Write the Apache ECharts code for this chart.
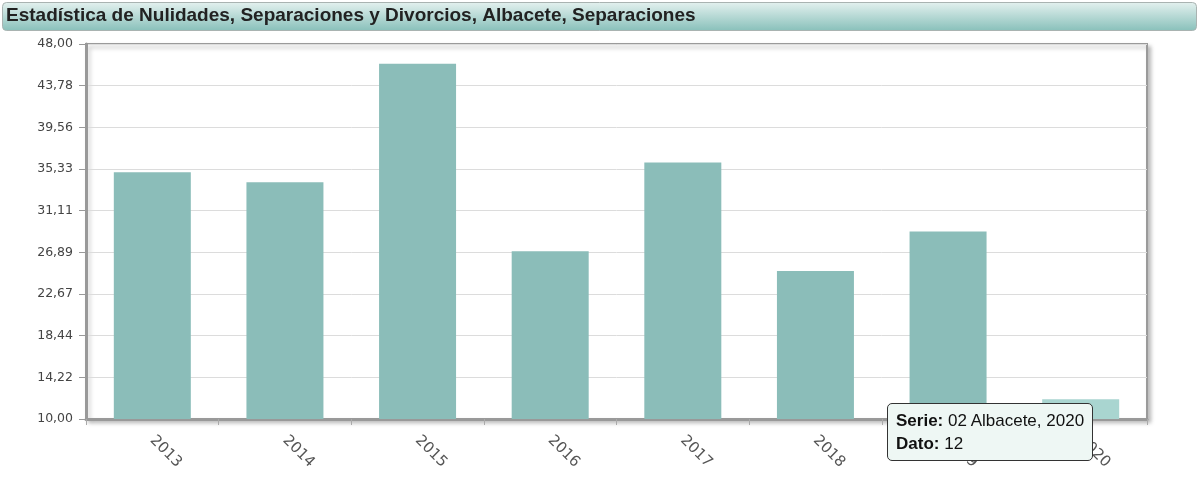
<!DOCTYPE html>
<html>
<head>
<meta charset="utf-8">
<script src="https://cdn.jsdelivr.net/npm/echarts@6/dist/echarts.min.js"></script>
<style>
html,body{margin:0;padding:0;background:#fff;}
#c{width:1200px;height:478px;}
</style>
</head>
<body>
<div id="c"></div>
<script>
const titleText = 'Estadística de Nulidades, Separaciones y Divorcios, Albacete, Separaciones';
const categories = ['2013','2014','2015','2016','2017','2018','2019','2020'];
const values = [35, 34, 46, 27, 36, 25, 29, 12];
const seriesName = '02 Albacete';
const yMin = 10, yMax = 48;

const chart = echarts.init(document.getElementById('c'), null, {renderer:'canvas'});
const option = {
  animation: false,
  graphic: [
    {type:'rect', shape:{x:2.5,y:2.5,width:1194,height:28,r:4},
     style:{fill:new echarts.graphic.LinearGradient(0,0,0,1,[{offset:0,color:'#e4f1ef'},{offset:1,color:'#88c0ba'}]),
            stroke:'#a9b3b1', lineWidth:1}, z:0},
    {type:'text', left:6, top:6, style:{text:titleText, font:'bold 19px "Liberation Sans", Arial, sans-serif', fill:'#222'}, z:1}
  ],
  grid: {left:86, top:44, right:53, bottom:59, show:true, borderColor:'#9a9a9a', borderWidth:2,
         backgroundColor:'#fff', shadowColor:'rgba(0,0,0,0.25)', shadowBlur:4, shadowOffsetX:3, shadowOffsetY:3},
  tooltip: {
    trigger:'item', alwaysShowContent:true, transitionDuration:0, showDelay:0,
    backgroundColor:'#eef7f4', borderColor:'#333', borderWidth:1, padding:[5,8],
    position:[887,403],
    extraCssText:'border-radius:5px;box-shadow:none;',
    textStyle:{fontFamily:'"Liberation Sans", Arial, sans-serif', fontSize:17, color:'#111'},
    formatter: p => '<div style="line-height:23px;font-family:Liberation Sans,Arial,sans-serif;font-size:17px;color:#111"><b>Serie:</b> ' + p.seriesName + ', ' + p.name + '<br><b>Dato:</b> ' + p.value + '</div>'
  },
  xAxis: {
    type:'category', data:categories,
    axisLine:{show:true, lineStyle:{color:'#999', width:3}},
    axisTick:{show:true, alignWithLabel:false, length:6, lineStyle:{color:'#aaa'}},
    axisLabel:{rotate:-45, margin:19, color:'#555', fontFamily:'"DejaVu Sans", Verdana, sans-serif', fontSize:15}
  },
  yAxis: {
    type:'value', min:yMin, max:yMax, interval:(yMax-yMin)/9,
    axisLine:{show:true, lineStyle:{color:'#999', width:3}},
    axisTick:{show:true, length:7, lineStyle:{color:'#999'}},
    splitLine:{lineStyle:{color:'#dcdcdc', width:1}},
    axisLabel:{margin:13, color:'#444', fontFamily:'"DejaVu Sans", Verdana, sans-serif', fontSize:12.5,
      formatter: v => v.toFixed(2).replace('.', ',')}
  },
  series: [{
    type:'bar', name:seriesName, data:values, barWidth:77,
    itemStyle:{color:'#8bbdb9'},
    emphasis:{itemStyle:{color:'#a9d5d0'}}
  }]
};
chart.setOption(option);
chart.dispatchAction({type:'highlight', seriesIndex:0, dataIndex:7});
chart.dispatchAction({type:'showTip', seriesIndex:0, dataIndex:7});
</script>
</body>
</html>
